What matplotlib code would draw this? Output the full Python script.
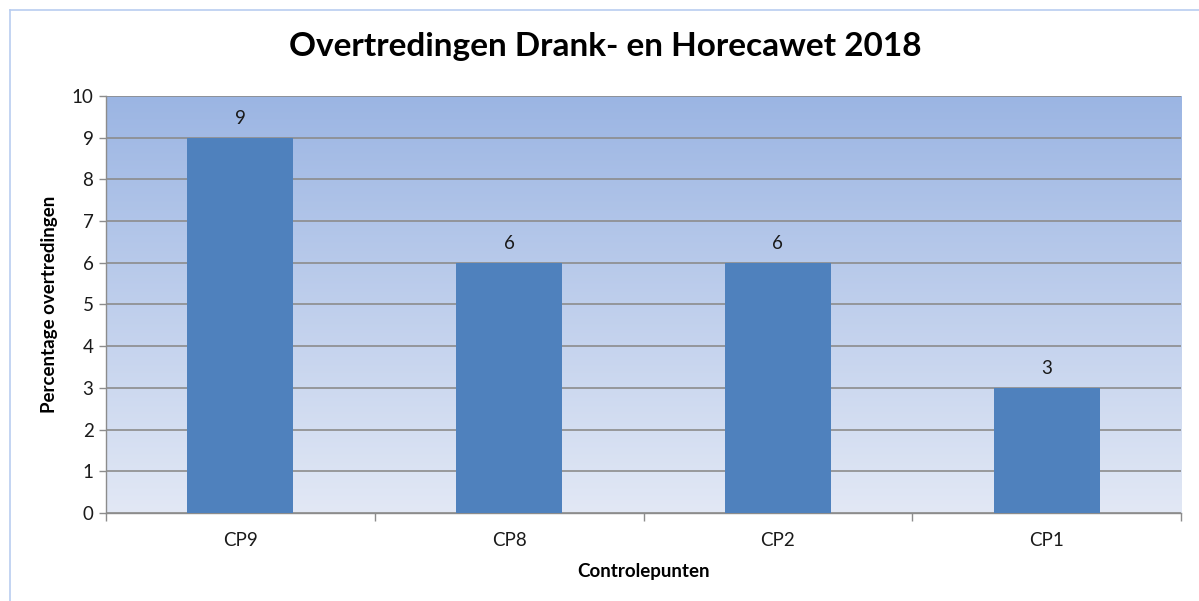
import numpy as np
import matplotlib.pyplot as plt
from matplotlib.lines import Line2D

categories = ['CP9', 'CP8', 'CP2', 'CP1']
values = [9, 6, 6, 3]
yticks = [0, 1, 2, 3, 4, 5, 6, 7, 8, 9, 10]

plt.rcParams['font.family'] = ['Lato', 'DejaVu Sans']

fig = plt.figure(figsize=(11.99, 6.01), dpi=100)
ax = fig.add_axes([0.0884, 0.1464, 0.8966, 0.6939])

# gradient background like excel plot area
grad = np.linspace(0, 1, 256).reshape(-1, 1)
top = np.array([0x9b, 0xb5, 0xe3]) / 255
bot = np.array([0xe2, 0xe8, 0xf5]) / 255
img = bot + (top - bot) * grad
ax.imshow(img[:, None, :].repeat(2, axis=1), extent=[-0.5, 3.5, 0, 10],
          origin='lower', aspect='auto', zorder=0)

x = np.arange(len(categories))
bars = ax.bar(x, values, width=0.395, color='#4f81bd', zorder=3)
for b, v in zip(bars, values):
    ax.annotate(str(v), (b.get_x() + b.get_width() / 2, v), xytext=(0, 14),
                textcoords='offset points', ha='center', va='center',
                fontsize=13.5, color='#1a1a1a')

ax.set_xlim(-0.5, 3.5)
ax.set_ylim(0, 10)
ax.set_yticks(yticks)
ax.yaxis.grid(True, color='#8c8c8c', linewidth=1.2, zorder=1)
ax.set_axisbelow(True)

ax.set_xticks(x)
ax.set_xticklabels(categories)
ax.set_xticks(np.arange(-0.5, 4, 1), minor=True)
ax.tick_params(axis='x', which='major', length=0, pad=14, labelsize=13.5, labelcolor='#1a1a1a')
ax.tick_params(axis='x', which='minor', length=6, color='#8c8c8c', width=1)
ax.tick_params(axis='y', length=5, color='#8c8c8c', width=1, labelsize=13.5, labelcolor='#1a1a1a', pad=4)

for s in ['top', 'right']:
    ax.spines[s].set_visible(False)
for s in ['left', 'bottom']:
    ax.spines[s].set_color('#8c8c8c')
    ax.spines[s].set_linewidth(1)

ax.set_xlabel('Controlepunten', fontsize=13.5, fontweight='bold', labelpad=10)
ax.set_ylabel('Percentage overtredingen', fontsize=13.5, fontweight='bold', labelpad=10)

fig.text(0.505, 0.922, 'Overtredingen Drank- en Horecawet 2018', ha='center', va='center',
         fontsize=24, fontweight='bold')

# outer chart border (left and top visible)
fig.add_artist(Line2D([10 / 1199, 10 / 1199], [0, 1 - 10 / 601], transform=fig.transFigure,
                      color='#b9cdf0', linewidth=1.2))
fig.add_artist(Line2D([10 / 1199, 1], [1 - 10 / 601, 1 - 10 / 601], transform=fig.transFigure,
                      color='#b9cdf0', linewidth=1.2))

fig.savefig('out.png', dpi=100)
